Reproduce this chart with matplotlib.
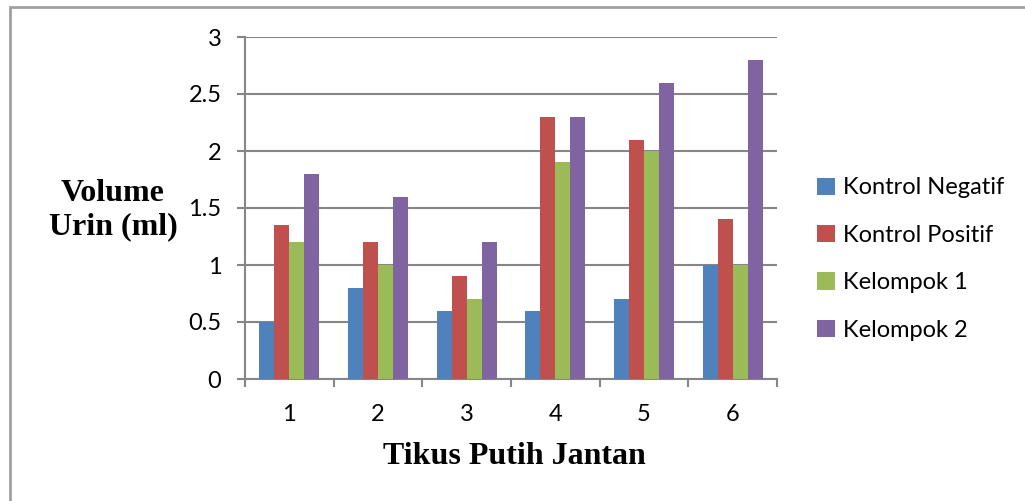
import matplotlib
matplotlib.use("Agg")
import matplotlib.pyplot as plt
import numpy as np
from matplotlib.patches import Rectangle

categories = ["1", "2", "3", "4", "5", "6"]
series_names = ["Kontrol Negatif", "Kontrol Positif", "Kelompok 1", "Kelompok 2"]
kontrol_negatif = [0.5, 0.8, 0.6, 0.6, 0.7, 1.0]
kontrol_positif = [1.35, 1.2, 0.9, 2.3, 2.1, 1.4]
kelompok_1 = [1.2, 1.0, 0.7, 1.9, 2.0, 1.0]
kelompok_2 = [1.8, 1.6, 1.2, 2.3, 2.6, 2.8]
yticks = [0, 0.5, 1, 1.5, 2, 2.5, 3]
ytick_labels = ["0", "0.5", "1", "1.5", "2", "2.5", "3"]

colors = ["#4F81BD", "#C0504D", "#9BBB59", "#8064A2"]
series = [kontrol_negatif, kontrol_positif, kelompok_1, kelompok_2]

W, H = 1025, 501
fig = plt.figure(figsize=(W / 100, H / 100), dpi=100)
ax = fig.add_axes([245 / W, 1 - 379 / H, (777 - 245) / W, (379 - 37) / H])

x = np.arange(len(categories))
bw = 0.17
for i, (vals, c, name) in enumerate(zip(series, colors, series_names)):
    ax.bar(x + (i - 1.5) * bw, vals, width=bw, color=c, label=name, zorder=3)

ax.set_xlim(-0.5, len(categories) - 0.5)
ax.set_ylim(0, 3)
ax.set_yticks(yticks)
ax.set_yticklabels(ytick_labels, family="Lato", fontsize=17)
ax.yaxis.grid(True, color="#868686", linewidth=1.5, zorder=0)
ax.set_axisbelow(True)

ax.set_xticks(np.arange(len(categories) + 1) - 0.5)
ax.set_xticklabels([])
ax.set_xticks(x, minor=True)
ax.set_xticklabels(categories, minor=True, family="Lato", fontsize=17)
ax.tick_params(axis="x", which="major", direction="out", length=6, width=1.5, color="#868686")
ax.tick_params(axis="x", which="minor", length=0, pad=18)
ax.tick_params(axis="y", direction="out", length=6, width=1.5, color="#868686", pad=11)

for s in ["top", "right"]:
    ax.spines[s].set_visible(False)
for s in ["left", "bottom"]:
    ax.spines[s].set_color("#868686")
    ax.spines[s].set_linewidth(1.5)

leg = ax.legend(loc="upper left", bbox_to_anchor=(808 / W, 1 - 168 / H), bbox_transform=fig.transFigure,
                frameon=False, prop={"family": "Lato", "size": 17}, handlelength=0.75, handleheight=0.75,
                handletextpad=0.35, labelspacing=1.12, borderaxespad=0)

fig.text(113 / W, 1 - 210 / H, "Volume\nUrin (ml)", family="Liberation Serif", fontweight="bold",
         fontsize=23, ha="center", va="center", linespacing=1.22)
fig.text(514 / W, 1 - 456 / H, "Tikus Putih Jantan", family="Liberation Serif", fontweight="bold",
         fontsize=23, ha="center", va="center")

fig.patches.append(Rectangle((10 / W, -0.1), 1.2, 1 - 7 / H + 0.1, transform=fig.transFigure,
                             fill=False, edgecolor="#A0A0A0", linewidth=2))

fig.savefig("out.png", dpi=100)
